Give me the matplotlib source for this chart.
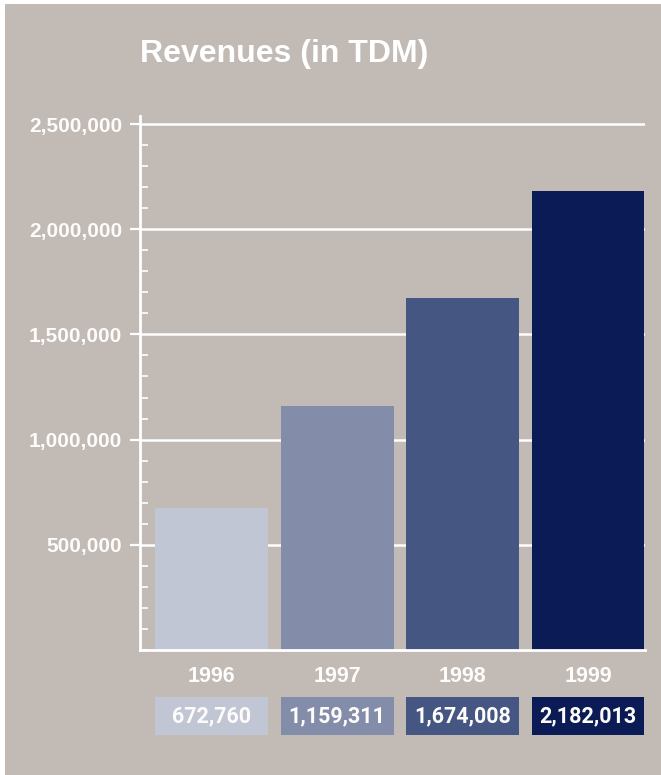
import matplotlib.pyplot as plt
from matplotlib.patches import Rectangle
from matplotlib.ticker import FuncFormatter, MultipleLocator
from matplotlib.transforms import blended_transform_factory

years = ["1996", "1997", "1998", "1999"]
revenues = [672760, 1159311, 1674008, 2182013]
bar_colors = ["#c0c6d3", "#838ca9", "#465682", "#0a1b55"]

BG = "#c2bab5"
WHITE = "#fdfcfb"

W, H = 661, 775
fig = plt.figure(figsize=(W / 100, H / 100), dpi=100, facecolor="white")

# grey panel with a thin white margin on the top and left
fig.patches.append(Rectangle((5 / W, 0), 1 - 5 / W, 1 - 4 / H,
                             transform=fig.transFigure, facecolor=BG,
                             edgecolor="none", zorder=-10))

ax = fig.add_axes([140 / W, 125 / H, 504.5 / W, 534.4 / H])
ax.set_facecolor("none")

x = list(range(len(years)))
ax.bar(x, revenues, width=0.9, color=bar_colors, zorder=3)

ax.set_xlim(-0.57, 3.45)
ax.set_ylim(0, 2.54e6)

ax.set_yticks([500000, 1000000, 1500000, 2000000, 2500000])
ax.yaxis.set_minor_locator(MultipleLocator(100000))
ax.yaxis.set_major_formatter(FuncFormatter(lambda v, _: f"{v:,.0f}"))
ax.grid(axis="y", which="major", color="white", lw=1.8, zorder=1)

ax.tick_params(axis="y", which="major", direction="out", length=7, width=1.6,
               color="white", pad=6, labelcolor=WHITE, labelsize=15)
ax.tick_params(axis="y", which="minor", direction="in", length=5.5, width=1.2,
               color="white")
for lab in ax.get_yticklabels():
    lab.set_fontweight("bold")
    lab.set_family("Liberation Sans")

ax.set_xticks(x)
ax.set_xticklabels(years, fontsize=15.5, fontweight="bold", color=WHITE,
                   family="Liberation Sans")
ax.tick_params(axis="x", length=0, pad=11.5)

for side in ["top", "right"]:
    ax.spines[side].set_visible(False)
for side in ["left", "bottom"]:
    ax.spines[side].set_color("white")
    ax.spines[side].set_linewidth(2)
    ax.spines[side].set_zorder(4)

# value boxes under the year labels
trans = blended_transform_factory(ax.transData, fig.transFigure)
box_bottom = (H - 735) / H
box_h = 38 / H
for xi, val, col in zip(x, revenues, bar_colors):
    ax.add_patch(Rectangle((xi - 0.45, box_bottom), 0.9, box_h, transform=trans,
                           facecolor=col, edgecolor="none", clip_on=False))
    ax.text(xi, box_bottom + box_h / 2, f"{val:,}", transform=trans,
            ha="center", va="center", color=WHITE, fontsize=15.5,
            fontweight="bold", family="Roboto")

fig.text(140 / W, (H - 54) / H, "Revenues (in TDM)", ha="left", va="center",
         fontsize=23, fontweight="bold", color="white", family="Liberation Sans")

fig.savefig("out.png", dpi=100, facecolor=fig.get_facecolor())
